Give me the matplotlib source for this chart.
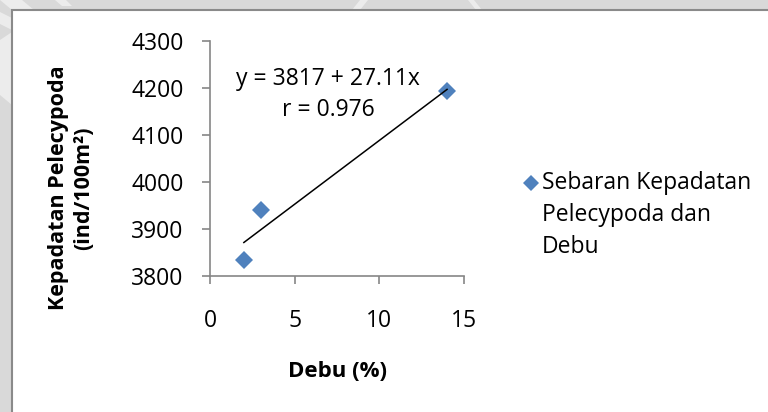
import matplotlib
matplotlib.use("Agg")
import matplotlib.pyplot as plt
from matplotlib.patches import Rectangle, Polygon
from matplotlib.lines import Line2D

# ---- data ----
debu = [2, 3, 14]
kepadatan = [3835, 3941, 4194]
intercept = 3817
slope = 27.11
r_value = 0.976
x_ticks = [0, 5, 10, 15]
y_ticks = [3800, 3900, 4000, 4100, 4200, 4300]
series_label = ["Sebaran Kepadatan", "Pelecypoda dan", "Debu"]

W, H = 768, 412
FONT = "Open Sans"
GRAY = "#868686"
BLUE = "#4F81BD"

fig = plt.figure(figsize=(W / 100, H / 100), dpi=100)
fig.patch.set_facecolor("#d9d9d9")

def fx(px):
    return px / W

def fy(py):
    return 1 - py / H

# faint watermark fragments in the gray margin
for pts in [
    [(0, 0), (22, 0), (34, 10), (12, 10)],
    [(55, 0), (66, 0), (72, 6), (62, 6)],
    [(468, 0), (474, 0), (482, 10), (476, 10)],
    [(352, 10), (360, 10), (368, 0), (360, 0)],
    [(0, 12), (12, 18), (12, 30), (0, 24)],
    [(0, 40), (12, 32), (12, 105), (0, 95)],
]:
    fig.patches.append(Polygon([(fx(a), fy(b)) for a, b in pts], closed=True,
                               transform=fig.transFigure, facecolor="#ececec",
                               edgecolor="none", zorder=0))

# white chart panel with border
panel = Rectangle((fx(12), fy(500)), fx(800), fy(10) - fy(500),
                  transform=fig.transFigure, facecolor="white",
                  edgecolor="#8a8a8a", linewidth=1.5, zorder=1)
fig.patches.append(panel)

ax = fig.add_axes([fx(210), fy(276), fx(464) - fx(210), fy(40.7) - fy(276)])
ax.set_facecolor("none")
ax.set_zorder(2)

ax.plot(debu, kepadatan, linestyle="none", marker="D", markersize=9.5,
        color=BLUE, markeredgewidth=0, zorder=3, clip_on=False)
x_fit = [min(debu), max(debu)]
y_fit = [intercept + slope * v for v in x_fit]
ax.plot(x_fit, y_fit, color="black", linewidth=1.1, zorder=4)

ax.set_xlim(0, 15)
ax.set_ylim(3800, 4300)
ax.set_xticks(x_ticks)
ax.set_yticks(y_ticks)
ax.set_xticklabels([str(v) for v in x_ticks])
ax.set_yticklabels([str(v) for v in y_ticks])

for s in ["top", "right"]:
    ax.spines[s].set_visible(False)
for s in ["left", "bottom"]:
    ax.spines[s].set_color(GRAY)
    ax.spines[s].set_linewidth(1.2)

ax.tick_params(axis="both", direction="out", length=5.5, width=1.2,
               color=GRAY, labelsize=16.5, labelcolor="black")
ax.tick_params(axis="y", pad=13.5)
ax.tick_params(axis="x", pad=18.5)
for lab in ax.get_xticklabels() + ax.get_yticklabels():
    lab.set_fontfamily(FONT)

ax.set_xlabel("Debu (%)", fontsize=16, fontweight="bold", fontfamily=FONT)
ax.xaxis.label.set_va("center")
ax.xaxis.set_label_coords(0.5, -(371 - 276) / 235.3)

ax.set_ylabel("Kepadatan Pelecypoda\n(ind/100m²)", fontsize=15.5,
              fontweight="bold", fontfamily=FONT, linespacing=1.3)
ax.yaxis.label.set_va("center")
ax.yaxis.set_label_coords((71 - 210) / 254, (276 - 188) / 235.3)

# equation annotation
ax.text((328 - 210) / 254, (276 - 79) / 235.3, f"y = {intercept} + {slope}x",
        transform=ax.transAxes, ha="center", va="center", fontsize=16.5,
        fontfamily=FONT)
ax.text((328 - 210) / 254, (276 - 110) / 235.3, f"r = {r_value}",
        transform=ax.transAxes, ha="center", va="center", fontsize=16.5,
        fontfamily=FONT)

# legend (manual, marker aligned with first line)
fig.lines.append(Line2D([fx(531)], [fy(183)], transform=fig.transFigure,
                        marker="D", markersize=8.5, color=BLUE,
                        markeredgewidth=0, linestyle="none", zorder=5))
for i, line in enumerate(series_label):
    fig.text(fx(542), fy(183 + 32 * i), line, ha="left", va="center",
             fontsize=16.5, fontfamily=FONT, zorder=5)

fig.savefig("out.png", dpi=100, facecolor=fig.get_facecolor())
